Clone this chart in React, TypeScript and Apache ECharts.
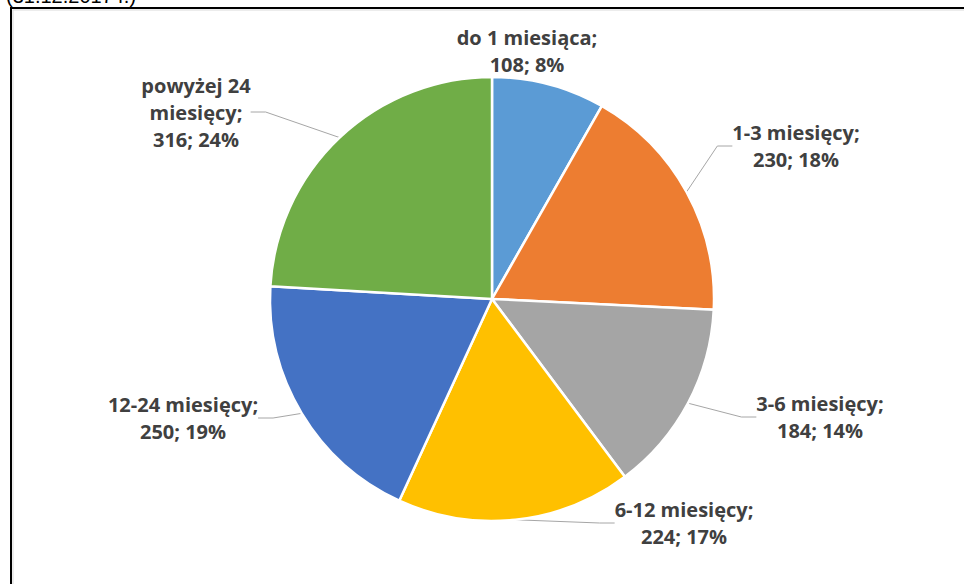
import React, { useEffect, useRef } from "react";
import * as echarts from "echarts";

const categories = [
  "do 1 miesiąca",
  "1-3 miesięcy",
  "3-6 miesięcy",
  "6-12 miesięcy",
  "12-24 miesięcy",
  "powyżej 24 miesięcy",
];
const values = [108, 230, 184, 224, 250, 316];
const labelLines = [
  ["do 1 miesiąca;", "108; 8%"],
  ["1-3 miesięcy;", "230; 18%"],
  ["3-6 miesięcy;", "184; 14%"],
  ["6-12 miesięcy;", "224; 17%"],
  ["12-24 miesięcy;", "250; 19%"],
  ["powyżej 24", "miesięcy;", "316; 24%"],
];
const colors = ["#5B9BD5", "#ED7D31", "#A5A5A5", "#FFC000", "#4472C4", "#70AD47"];

// label anchor positions (center of text block)
const labelPos: [number, number][] = [
  [527, 51],
  [796, 146],
  [820, 417],
  [684, 523],
  [183, 418],
  [196, 112],
];

export default function App() {
  const ref = useRef<HTMLDivElement>(null);
  useEffect(() => {
    const chart = echarts.init(ref.current!, undefined, { renderer: "svg" });
    chart.setOption({
      animation: false,
      backgroundColor: "#ffffff",
      graphic: [
        {
          type: "text",
          left: 6,
          top: -14,
          style: {
            text: "(31.12.2017 r.)",
            font: "20px 'Liberation Sans', Arial, sans-serif",
            fill: "#000",
          },
        },
        {
          type: "rect",
          shape: { x: 11, y: 8, width: 1000, height: 620 },
          style: { fill: "none", stroke: "#000", lineWidth: 2 },
          z: 10,
        },
        {
          type: "line",
          shape: { x1: 13, y1: 10, x2: 13, y2: 600 },
          style: { stroke: "#d9d9d9", lineWidth: 1 },
          z: 10,
        },
        {
          type: "line",
          shape: { x1: 13, y1: 10, x2: 1000, y2: 10 },
          style: { stroke: "#d9d9d9", lineWidth: 1 },
          z: 10,
        },
      ],
      series: [
        {
          type: "pie",
          center: [492, 299],
          radius: 222,
          startAngle: 90,
          clockwise: true,
          itemStyle: { borderColor: "#ffffff", borderWidth: 2.5 },
          label: {
            show: true,
            color: "#404040",
            fontFamily: "'Open Sans', sans-serif",
            fontWeight: "bold",
            fontSize: 20,
            lineHeight: 27,
            align: "center",
          },
          labelLine: {
            show: true,
            lineStyle: { color: "#a6a6a6", width: 1 },
            length: 20,
            length2: 15,
          },
          labelLayout: (params: any) => {
            const p = labelPos[params.dataIndex];
            return { x: p[0], y: p[1], align: "center", verticalAlign: "middle" };
          },
          data: categories.map((name, i) => ({
            name,
            value: values[i],
            itemStyle: { color: colors[i] },
            label: { formatter: labelLines[i].join("\n") },
            labelLine: { show: i !== 0 },
          })),
        },
      ],
    });
    return () => chart.dispose();
  }, []);
  return (
    <div
      ref={ref}
      style={{ position: "fixed", left: 0, top: 0, width: 964, height: 584 }}
    />
  );
}
